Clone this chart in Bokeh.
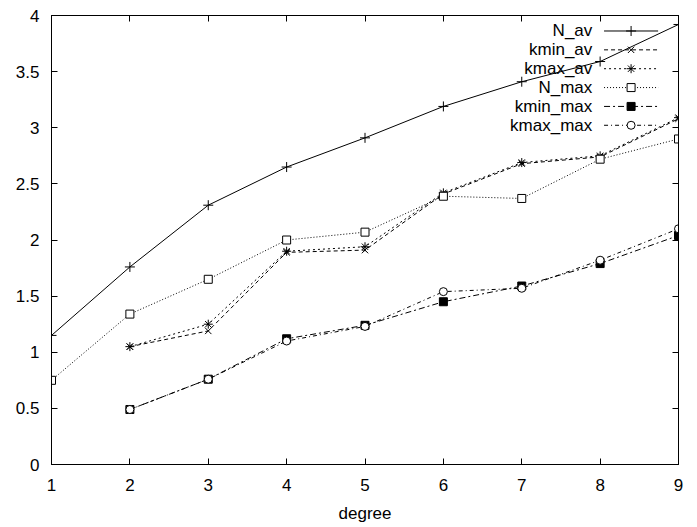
from bokeh.plotting import figure
from bokeh.models import (FixedTicker, LinearAxis, NumeralTickFormatter, Label, Range1d,
                          CustomJSTickFormatter)
from bokeh.embed import file_html
from bokeh.resources import INLINE

# ---- data ----
x_full = [1, 2, 3, 4, 5, 6, 7, 8, 9]
x_k = [2, 3, 4, 5, 6, 7, 8, 9]

N_av = [1.15, 1.76, 2.31, 2.65, 2.91, 3.19, 3.41, 3.59, 3.92]
kmin_av = [1.05, 1.19, 1.89, 1.91, 2.41, 2.68, 2.74, 3.08]
kmax_av = [1.05, 1.25, 1.90, 1.94, 2.42, 2.69, 2.75, 3.09]
N_max = [0.75, 1.34, 1.65, 2.00, 2.07, 2.39, 2.37, 2.72, 2.90]
kmin_max = [0.49, 0.76, 1.12, 1.24, 1.45, 1.59, 1.79, 2.04]
kmax_max = [0.49, 0.76, 1.10, 1.23, 1.54, 1.57, 1.82, 2.10]

x_ticks = [1, 2, 3, 4, 5, 6, 7, 8, 9]
y_ticks = [0, 0.5, 1, 1.5, 2, 2.5, 3, 3.5, 4]
x_title = "degree"

FONT = "Liberation Sans"
FS = "17px"

series = [
    # name, xs, ys, dash, marker, fill, size
    ("N_av", x_full, N_av, "solid", "cross", None, 10),
    ("kmin_av", x_k, kmin_av, "4 3", "x", None, 9),
    ("kmax_av", x_k, kmax_av, "2 3", "asterisk", None, 9),
    ("N_max", x_full, N_max, "1 2", "square", "white", 8),
    ("kmin_max", x_k, kmin_max, "6 3 2 3", "square", "black", 8),
    ("kmax_max", x_k, kmax_max, "4 3 1 3", "circle", "white", 8),
]

p = figure(width=697, height=527, output_backend="svg", toolbar_location=None,
           x_range=Range1d(1, 9), y_range=Range1d(0, 4),
           min_border_left=51, min_border_right=19, min_border_top=15,
           min_border_bottom=63)
p.grid.visible = False
p.background_fill_color = "white"
p.border_fill_color = "white"
p.outline_line_color = "black"
p.outline_line_width = 1

for name, xs, ys, dash, marker, fill, size in series:
    p.line(xs, ys, line_color="black", line_width=1, line_dash=dash)
    p.scatter(xs, ys, marker=marker, size=size, line_color="black",
              fill_color=fill if fill else None, line_width=1)

# axes
def style_axis(ax, labels=True):
    ax.major_tick_in = 6
    ax.major_tick_out = 0
    ax.minor_tick_line_color = None
    ax.axis_line_color = "black"
    ax.major_tick_line_color = "black"
    ax.major_label_text_font = FONT
    ax.major_label_text_font_size = FS
    ax.major_label_text_color = "black"
    if not labels:
        ax.formatter = CustomJSTickFormatter(code="return ''")
        ax.major_label_standoff = 0

xa = p.xaxis[0]
xa.ticker = FixedTicker(ticks=x_ticks)
style_axis(xa)
xa.major_label_standoff = 14
xa.axis_label = x_title
xa.axis_label_text_font = FONT
xa.axis_label_text_font_size = FS
xa.axis_label_text_font_style = "normal"
xa.axis_label_text_color = "black"
xa.axis_label_standoff = 10

ya = p.yaxis[0]
ya.ticker = FixedTicker(ticks=y_ticks)
ya.formatter = NumeralTickFormatter(format="0.[0]")
style_axis(ya)
ya.major_label_standoff = 12

top = LinearAxis(ticker=FixedTicker(ticks=x_ticks))
style_axis(top, labels=False)
p.add_layout(top, "above")
right = LinearAxis(ticker=FixedTicker(ticks=y_ticks))
style_axis(right, labels=False)
p.add_layout(right, "right")

# gnuplot-style key (text right-aligned, sample to the right)
key_text_x = 7.90
key_x0, key_x1 = 8.05, 8.74
key_mid = (key_x0 + key_x1) / 2
key_y0, key_dy = 3.862, 0.168
for i, (name, xs, ys, dash, marker, fill, size) in enumerate(series):
    yk = key_y0 - i * key_dy
    p.add_layout(Label(x=key_text_x, y=yk, text=name, text_align="right",
                       text_baseline="middle", text_font=FONT,
                       text_font_size=FS, text_color="black"))
    p.line([key_x0, key_x1], [yk, yk], line_color="black", line_width=1, line_dash=dash)
    p.scatter([key_mid], [yk], marker=marker, size=size, line_color="black",
              fill_color=fill if fill else None, line_width=1)

open("out.html", "w").write(file_html(p, INLINE))
